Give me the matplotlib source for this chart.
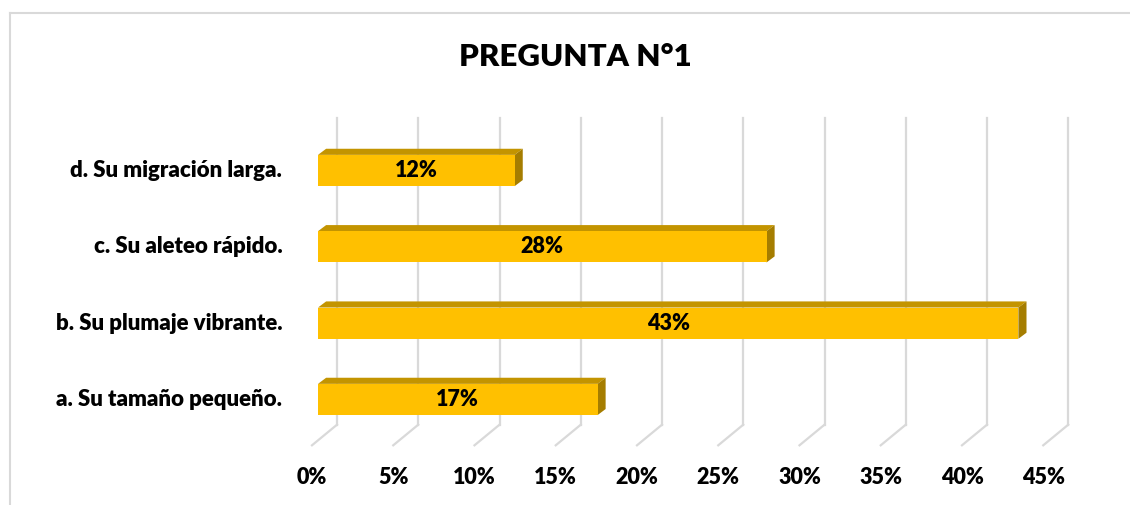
import matplotlib

matplotlib.use("Agg")

import matplotlib.pyplot as plt
from matplotlib.patches import Polygon, Rectangle

plt.rcParams["font.family"] = ["Lato", "DejaVu Sans"]

TITLE = "PREGUNTA N°1"
CATEGORIES = [
    "a. Su tamaño pequeño.",
    "b. Su plumaje vibrante.",
    "c. Su aleteo rápido.",
    "d. Su migración larga.",
]
PERCENTAGES = [17.2, 43.1, 27.6, 12.1]
X_TICKS = [0, 5, 10, 15, 20, 25, 30, 35, 40, 45]

FRONT_COLOR = "#FFC000"
TOP_COLOR = "#C39400"
SIDE_COLOR = "#A57D00"
GRID_COLOR = "#D9D9D9"
TEXT_WEIGHT = "heavy"

# data units of the 3D look
BAR_HEIGHT = 0.41
DEPTH_X = 0.5
DEPTH_Y = 0.08
BACK_X = 1.17
FLOOR_FRONT_X = -0.37
WALL_TOP = 3.69
WALL_BOTTOM = -0.33
FLOOR_FRONT = -0.6


def draw_bar(axis, y_center, value):
    low = y_center - BAR_HEIGHT / 2
    high = y_center + BAR_HEIGHT / 2
    axis.add_patch(Polygon(
        [(0, high), (value, high), (value + DEPTH_X, high + DEPTH_Y), (DEPTH_X, high + DEPTH_Y)],
        closed=True, facecolor=TOP_COLOR, edgecolor="none", zorder=3,
    ))
    axis.add_patch(Polygon(
        [(value, low), (value + DEPTH_X, low + DEPTH_Y), (value + DEPTH_X, high + DEPTH_Y), (value, high)],
        closed=True, facecolor=SIDE_COLOR, edgecolor="none", zorder=3,
    ))
    axis.add_patch(Rectangle((0, low), value, BAR_HEIGHT, facecolor=FRONT_COLOR, edgecolor="none", zorder=4))
    axis.text(value / 2, y_center, f"{round(value)}%", ha="center", va="center",
              fontsize=15.5, fontweight=TEXT_WEIGHT, color="black", zorder=5)


def main() -> None:
    figure = plt.figure(figsize=(11.3, 5.05), dpi=100)
    axis = figure.add_axes([0, 0, 1, 1])
    px_per_unit = 16.25
    axis.set_xlim(-318 / px_per_unit, (1130 - 318) / px_per_unit)
    row_px = 76.33
    axis.set_ylim(-(505 - 399.5) / row_px, 399.5 / row_px)
    axis.axis("off")

    # chart frame (cropped on the right and bottom)
    figure.add_artist(plt.Line2D([10 / 1130, 10 / 1130], [0, 1 - 13 / 505], color=GRID_COLOR,
                                 linewidth=1.5, transform=figure.transFigure))
    figure.add_artist(plt.Line2D([10 / 1130, 1], [1 - 13 / 505, 1 - 13 / 505], color=GRID_COLOR,
                                 linewidth=1.5, transform=figure.transFigure))

    for tick in X_TICKS:
        back_x = tick + BACK_X
        axis.plot([back_x, back_x], [WALL_BOTTOM, WALL_TOP], color=GRID_COLOR, linewidth=1.6, zorder=1)
        axis.plot([back_x, tick + FLOOR_FRONT_X], [WALL_BOTTOM, FLOOR_FRONT], color=GRID_COLOR,
                  linewidth=1.6, zorder=1)
        axis.text(tick + FLOOR_FRONT_X, -1.02, f"{tick}%", ha="center", va="center",
                  fontsize=15.5, fontweight=TEXT_WEIGHT, color="black")

    for index, (category, value) in enumerate(zip(CATEGORIES, PERCENTAGES)):
        draw_bar(axis, index, value)
        axis.text(-2.2, index, category, ha="right", va="center",
                  fontsize=16, fontweight=TEXT_WEIGHT, color="black")

    figure.text(575 / 1130, 1 - 57 / 505, TITLE, ha="center", va="center",
                fontsize=22.5, fontweight=TEXT_WEIGHT, color="black")

    figure.savefig("out.png", dpi=100)
    plt.close(figure)


if __name__ == "__main__":
    main()
